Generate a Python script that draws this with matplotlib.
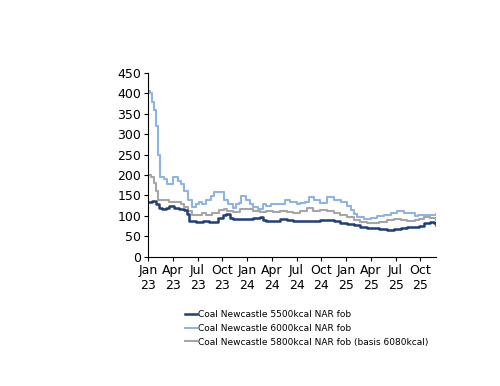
import matplotlib.pyplot as plt
import numpy as np

# months since Jan 2023
m_6000 = [0, 0.3, 0.5, 0.73, 0.93, 1.26, 1.46, 1.95, 2.36, 2.76, 3.05, 3.58, 3.98, 4.39, 4.8, 5.37, 5.77, 6.18, 6.59, 7.0, 7.6, 8.01, 8.64, 9.06, 9.26, 9.67, 10.28, 10.69, 11.02, 11.3, 11.9, 12.32, 12.72, 13.33, 13.94, 14.35, 14.96, 15.57, 16.59, 17.2, 18.0, 18.43, 19.04, 19.45, 20.06, 20.88, 21.7, 22.52, 23.33, 24.15, 24.56, 24.96, 25.37, 26.18, 27.0, 27.8, 28.6, 29.4, 30.2, 31.0, 31.8, 32.3, 32.7, 34.9]
v_6000 = [405, 400, 380, 360, 320, 250, 195, 190, 178, 178, 195, 185, 178, 160, 140, 122, 130, 135, 128, 138, 148, 158, 158, 158, 140, 130, 120, 130, 132, 148, 140, 130, 122, 118, 130, 125, 128, 128, 140, 135, 130, 132, 135, 146, 138, 132, 145, 140, 135, 125, 115, 105, 97, 93, 95, 100, 103, 108, 112, 108, 108, 100, 102, 105]

m_5800 = [0, 0.33, 0.73, 1.02, 1.26, 1.75, 2.56, 3.37, 3.98, 4.39, 4.8, 5.37, 6.18, 6.59, 7.0, 7.8, 8.62, 9.23, 9.63, 10.28, 11.1, 11.9, 12.72, 13.54, 14.35, 15.16, 15.98, 16.79, 17.6, 18.41, 19.23, 20.04, 20.85, 21.67, 22.48, 23.29, 24.11, 24.92, 25.74, 26.55, 27.4, 28.0, 28.98, 29.79, 30.61, 31.42, 32.0, 32.4, 32.8, 33.5, 34.2, 34.9]
v_5800 = [200, 195, 180, 160, 140, 138, 135, 133, 130, 122, 112, 103, 103, 108, 103, 108, 115, 118, 112, 110, 118, 118, 112, 110, 112, 110, 112, 110, 108, 112, 120, 112, 115, 112, 108, 102, 97, 90, 85, 83, 83, 85, 90, 92, 90, 87, 87, 90, 92, 98, 95, 90]

m_5500 = [0, 0.53, 0.93, 1.34, 1.75, 2.15, 2.56, 3.17, 3.78, 4.39, 4.67, 5.0, 5.8, 6.63, 7.44, 8.05, 8.46, 9.06, 9.47, 9.88, 10.28, 11.1, 11.9, 12.72, 13.54, 13.94, 14.35, 15.16, 15.98, 16.79, 17.6, 18.41, 19.23, 20.04, 20.85, 21.67, 22.48, 23.29, 24.11, 24.92, 25.74, 26.55, 27.4, 28.0, 29.0, 29.8, 30.6, 31.4, 32.2, 32.8, 33.4, 34.2, 34.6, 34.9]
v_5500 = [133, 137, 130, 120, 118, 120, 123, 120, 117, 115, 105, 87, 85, 87, 85, 85, 95, 103, 105, 95, 93, 93, 93, 95, 97, 90, 87, 88, 92, 90, 87, 87, 87, 87, 90, 90, 87, 83, 80, 77, 72, 70, 70, 67, 65, 67, 70, 72, 72, 75, 82, 85, 82, 78]

tick_labels = ['Jan\n23', 'Apr\n23', 'Jul\n23', 'Oct\n23', 'Jan\n24', 'Apr\n24',
               'Jul\n24', 'Oct\n24', 'Jan\n25', 'Apr\n25', 'Jul\n25', 'Oct\n25']

plt.rcParams['font.family'] = 'DejaVu Sans'
fig = plt.figure(figsize=(5, 3.86), dpi=100)
ax = fig.add_axes([0.296, 0.335, 0.576, 0.476])

ax.plot(m_5500, v_5500, drawstyle='steps-post', color='#1f3f78', lw=1.8,
        label='Coal Newcastle 5500kcal NAR fob')
ax.plot(m_6000, v_6000, drawstyle='steps-post', color='#8db4e2', lw=1.5,
        label='Coal Newcastle 6000kcal NAR fob')
ax.plot(m_5800, v_5800, drawstyle='steps-post', color='#a6a6a6', lw=1.5,
        label='Coal Newcastle 5800kcal NAR fob (basis 6080kcal)')
# dark line on top
ax.lines[1].set_zorder(1)
ax.lines[2].set_zorder(1.5)

ax.set_xlim(0, 34.9)
ax.set_ylim(0, 450)
ax.set_yticks(np.arange(0, 451, 50))
ax.set_xticks(np.arange(0, 34, 3))
ax.set_xticklabels(tick_labels)
ax.tick_params(labelsize=9, length=3, width=0.8, color='black', pad=2)
for s in ['top', 'right']:
    ax.spines[s].set_visible(False)
for s in ['left', 'bottom']:
    ax.spines[s].set_linewidth(0.8)

h, l = ax.get_legend_handles_labels()
fig.legend(h, l, loc='upper left', bbox_to_anchor=(0.362, 0.205), frameon=False,
           fontsize=6.5, handlelength=1.4, handletextpad=0.1, labelspacing=0.5,
           borderaxespad=0)

fig.savefig('out.png', dpi=100)
